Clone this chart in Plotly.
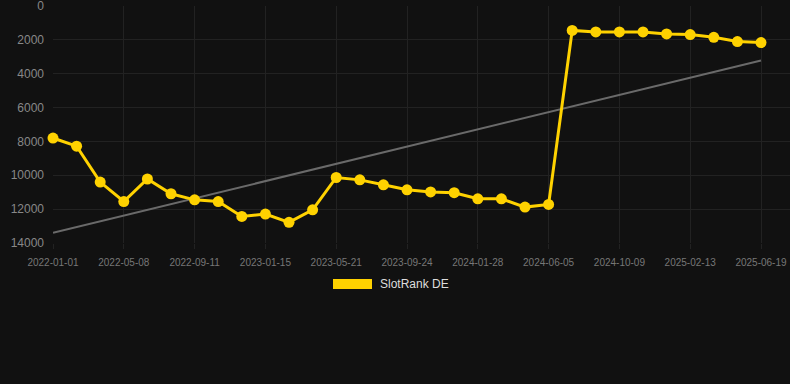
import numpy as np
import plotly.graph_objects as go

dates = [
    "2022-01-01", "2022-02-12", "2022-03-26", "2022-05-08", "2022-06-19", "2022-07-31",
    "2022-09-11", "2022-10-23", "2022-12-04", "2023-01-15", "2023-02-26", "2023-04-09",
    "2023-05-21", "2023-07-02", "2023-08-13", "2023-09-24", "2023-11-05", "2023-12-17",
    "2024-01-28", "2024-03-10", "2024-04-23", "2024-06-05", "2024-07-17", "2024-08-28",
    "2024-10-09", "2024-11-20", "2025-01-01", "2025-02-13", "2025-03-27", "2025-05-08",
    "2025-06-19",
]
rank = [
    7800, 8280, 10400, 11550, 10220, 11090,
    11450, 11550, 12430, 12290, 12780, 12040,
    10130, 10270, 10560, 10860, 10980, 11030,
    11390, 11390, 11880, 11720, 1440, 1530,
    1530, 1530, 1650, 1690, 1850, 2100,
    2160,
]
tick_labels = dates[::3]
y_ticks = [0, 2000, 4000, 6000, 8000, 10000, 12000, 14000]
series_name = "SlotRank DE"

YELLOW = "#FFD200"
BG = "#111111"
GRID = "#222222"
FONT = "Liberation Sans, Arial, sans-serif"

idx = np.arange(len(rank))
slope, intercept = np.polyfit(idx, rank, 1)
trend = slope * idx + intercept

W, H = 790, 384
L, R, T, B = 53, 0, 6, 141
data_right_px = 761  # pixel where the last category sits
unit_px = (data_right_px - L) / (len(dates) - 1)
x_max = (W - R - L) / unit_px

fig = go.Figure()
fig.add_trace(go.Scatter(
    x=dates, y=trend, mode="lines",
    line=dict(color="#6a6a6a", width=2),
    hoverinfo="skip", showlegend=False, cliponaxis=False,
))
fig.add_trace(go.Scatter(
    x=dates, y=rank, mode="lines+markers", name=series_name,
    line=dict(color=YELLOW, width=3),
    marker=dict(color=YELLOW, size=11),
    showlegend=False, cliponaxis=False,
))

pw = W - L - R
ph = H - T - B
def px(x):
    return (x - L) / pw
def py(y):
    return (H - B - y) / ph

fig.add_shape(type="rect", xref="paper", yref="paper",
              x0=px(333), x1=px(372), y0=py(289), y1=py(279),
              fillcolor=YELLOW, line=dict(width=0))
fig.add_annotation(xref="paper", yref="paper", x=px(378), y=py(284),
                   xanchor="left", yanchor="middle", showarrow=False,
                   text=series_name, font=dict(size=12, color="#dddddd", family=FONT))

fig.update_layout(
    width=W, height=H,
    margin=dict(l=L, r=R, t=T, b=B, autoexpand=False),
    paper_bgcolor=BG, plot_bgcolor=BG,
    font=dict(family=FONT),
    showlegend=False,
    xaxis=dict(
        type="category", range=[0, x_max],
        tickmode="array", tickvals=tick_labels, ticktext=tick_labels,
        tickfont=dict(size=10, color="#777777"),
        showgrid=True, gridcolor=GRID, gridwidth=1,
        zeroline=False, showline=False,
        ticks="outside", ticklen=5, tickcolor=GRID, tickwidth=1,
        ticklabelstandoff=5,
        ticklabeloverflow="allow", automargin=False,
    ),
    yaxis=dict(
        range=[14000, 0], tickvals=y_ticks, tickformat="d",
        tickfont=dict(size=12, color="#888888"),
        showgrid=True, gridcolor=GRID, gridwidth=1,
        zeroline=False, showline=False, ticks="", ticklabelstandoff=8,
        ticklabeloverflow="allow", automargin=False,
    ),
)

fig.write_html("out.html", config={"displayModeBar": False},
               post_script="document.body.style.margin='0';document.body.style.background='#111111';")
